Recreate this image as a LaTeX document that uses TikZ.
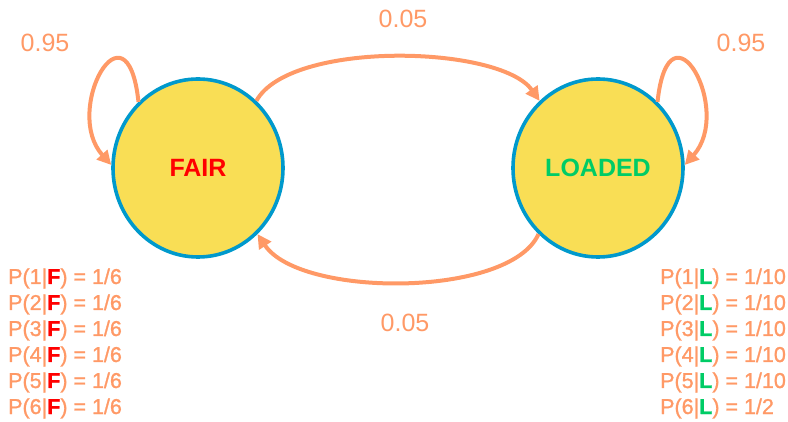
\documentclass[tikz,border=0pt]{standalone}
\usepackage{fontspec}
\setmainfont{Liberation Sans}
\newfontfamily\emitfont[FakeBold=1.2]{Liberation Sans}
\usetikzlibrary{shapes.geometric,arrows.meta}
\definecolor{orng}{RGB}{255,153,102}
\definecolor{gold}{RGB}{249,222,85}
\definecolor{cblue}{RGB}{0,153,204}
\definecolor{cgreen}{RGB}{0,204,102}
\definecolor{cred}{RGB}{255,0,0}
\begin{document}
\begin{tikzpicture}[x=1pt,y=-1pt,
  state/.style={ellipse,draw=cblue,fill=gold,line width=3.6pt,minimum width=170pt,minimum height=178pt,inner sep=0pt,font=\fontsize{25}{30}\selectfont\bfseries},
  arr/.style={draw=orng,line width=4pt,-{Triangle[length=14pt,width=14pt]}},
  prob/.style={text=orng,font=\fontsize{25}{30}\selectfont,inner sep=0pt},
  emit/.style={text=orng,font=\emitfont\fontsize{21.5}{26}\selectfont,inner sep=0pt,anchor=base west}]
\useasboundingbox (0,0) rectangle (788,422);
\node[state,text=cred] (fair) at (198,168) {FAIR};
\node[state,text=cgreen] (loaded) at (598,168) {LOADED};
% self loops
\draw[arr] (fair.132) .. controls (127,-5) and (62,110) .. (fair.178);
\draw[arr] (loaded.48) .. controls (669,-5) and (734,110) .. (loaded.2);
% transitions
\draw[arr] (fair.49) .. controls (290,40) and (500,45) .. (loaded.131);
\draw[arr] (loaded.228) .. controls (510,298) and (300,298) .. (fair.-48);
% labels
\node[prob] (l1) at (45,43) {0.95};
\node[prob] (l2) at (741,43) {0.95};
\node[prob] (l3) at (403,19) {0.05};
\node[prob] (l4) at (405,323) {0.05};
% emissions
\foreach \i in {1,...,6}{
  \node[emit] (ef\i) at (8,{284+26*(\i-1)}) {P(\i|\textbf{\textcolor{cred}{F}}) = 1/6};
}
\foreach \i in {1,...,5}{
  \node[emit] (el\i) at (660,{284+26*(\i-1)}) {P(\i|\textbf{\textcolor{cgreen}{L}}) = 1/10};
}
\node[emit] (el6) at (660,414) {P(6|\textbf{\textcolor{cgreen}{L}}) = 1/2};
\end{tikzpicture}
\end{document}
